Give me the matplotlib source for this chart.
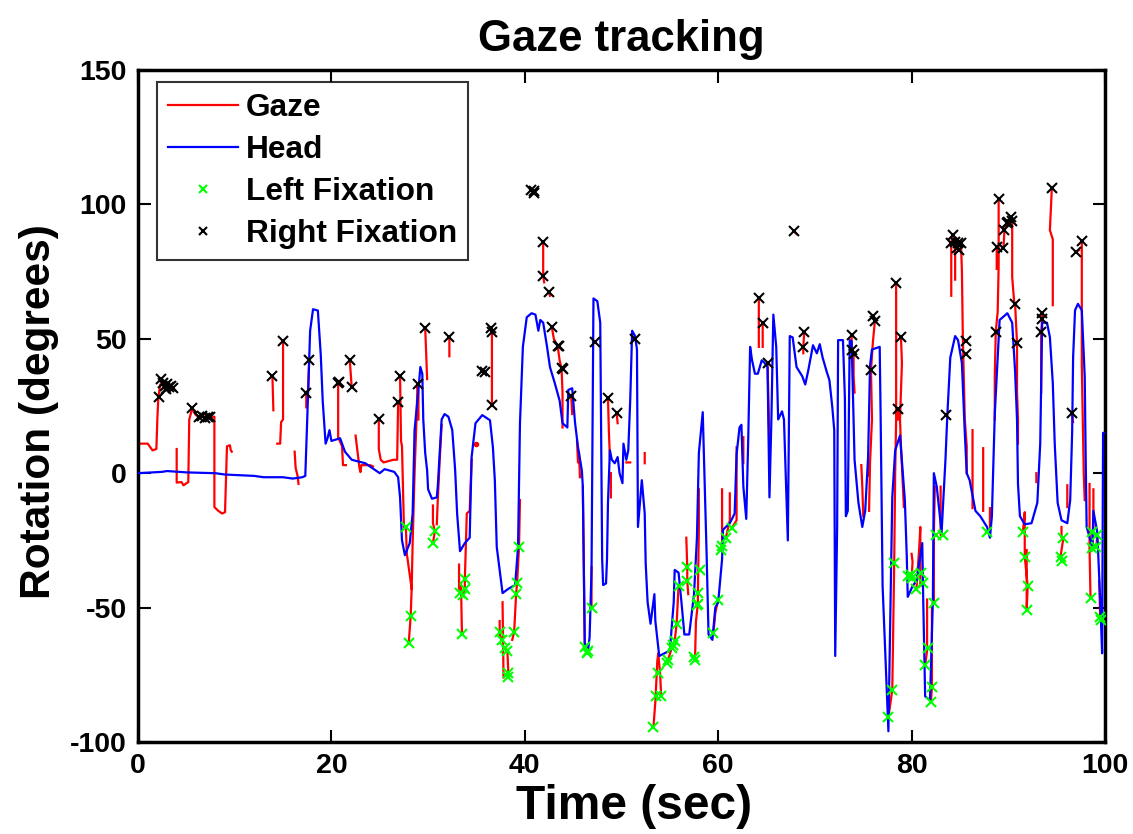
import numpy as np
import matplotlib
matplotlib.use("Agg")
import matplotlib.pyplot as plt

nan = np.nan

# ---------------- data ----------------
head_t = [0, 2.5, 3.0, 5, 8, 9, 12, 13, 15, 16, 17, 17.3, 17.5, 17.8, 18.1, 18.6, 18.9, 19.1, 19.4, 19.6,
          19.8, 20.0, 20.9, 21.4, 22.1, 23.5, 25, 25.5, 26.5, 26.9, 27.1, 27.3, 27.6, 28.1, 28.4, 28.6,
          29.0, 29.2, 29.4, 29.5, 29.7, 29.9, 30.0, 30.4, 30.9, 31.0, 31.2, 31.4, 31.7, 32.1, 32.5, 32.8,
          33.0, 33.3, 33.8, 34.3, 34.5, 34.9, 35.6, 36.4, 36.7, 36.9, 37.1, 37.4, 37.7, 38.3, 39.0, 39.3,
          39.5, 39.8, 40.2, 40.7, 41.1, 41.4, 41.6, 41.9, 42.3, 42.6, 43.1, 43.6, 43.9, 44.4, 44.5, 44.9,
          45.2, 45.5, 45.9, 46.0, 46.2, 46.5, 46.7, 46.9, 47.1, 47.5, 47.8, 48.0, 48.1, 48.4, 48.5, 48.6,
          48.8, 49.0, 49.3, 49.6, 49.8, 50.1, 50.2, 50.5, 50.7, 50.9, 51.1, 51.4, 51.6, 51.7, 52.1, 52.4,
          52.5, 52.7, 53.0, 53.4, 53.5, 53.9, 55.0, 55.4, 55.5, 55.9, 56.2, 56.5, 57.0, 57.5, 57.8, 58.0,
          58.4, 58.8, 59.0, 59.4, 59.7, 60.0, 60.4, 60.5, 61.2, 61.7, 61.9, 62.2, 62.4, 62.6, 62.9, 63.1,
          63.3, 63.5, 63.8, 64.1, 64.5, 64.8, 65.1, 65.2, 65.3, 65.5, 65.7, 66.0, 66.2, 66.6, 66.8, 67.2,
          67.4, 67.7, 68.1, 68.7, 69.0, 69.3, 69.8, 70.2, 70.5, 70.8, 71.2, 71.5, 71.8, 72.0, 72.1, 72.3,
          72.4, 72.9, 73.1, 73.2, 73.4, 73.6, 73.8, 74.1, 74.5, 74.9, 75.2, 75.5, 75.7, 75.9, 76.7, 76.8,
          77.0, 77.2, 77.6, 78.0, 78.3, 78.8, 79.3, 79.5, 79.6, 80.1, 80.5, 81.1, 81.2, 81.4, 81.9, 82.2,
          82.3, 82.6, 83.1, 83.5, 83.7, 84.0, 84.5, 84.8, 85.2, 85.5, 85.7, 86.0, 86.6, 87.1, 87.8, 88.1,
          88.3, 88.6, 89.1, 89.9, 90.4, 90.7, 90.9, 91.0, 91.2, 91.7, 92.4, 93.0, 93.3, 93.5, 94.0, 94.3,
          94.6, 94.8, 95.1, 95.5, 96.1, 96.4, 96.6, 96.7, 96.9, 97.2, 97.6, 97.9, 98.0, 98.1, 98.7, 98.8,
          99.2, 99.5, 99.7, 99.8, 100]
head_deg = [0.0, 0.5, 0.8, 0.3, 0, -0.5, -1, -1.5, -1.5, -2, -1.5, -1, 20, 53, 61, 60.5, 44, 27, 11, 13,
            16, 12, 13, 8, 5, 3.7, 0, 1.5, 0.5, -1.5, -9, -25, -30.5, -26, -15, 16,
            31, 39.5, 37, 20, 7.5, 1, -6, -9.5, -9, -5, 7.5, 20, 22, 21, 16, 1,
            -15, -29, -26, -24, 6, 18.6, 21.6, 19.7, 9.7, -2.6, -27.5, -36, -44.6, -43, -41.6, -27.5,
            18.6, 47, 58, 59.5, 59, 53, 57, 56, 47, 39.5, 33.5, 27, 18.6, 17, 31, 31.6,
            18.6, 9.7, 1, -5, -63, -67, -61, -36, 65, 64, 56, -32, -41.6, -41, -32, -11,
            8.5, 5, 3.7, 6, 0, -3.7, 11, 5, 8.5, 27, 53, 51, 46, -20, -2.6, -15,
            -33.5, -48, -56, -45, -55, -68, -66, -48, -36, -37, -48, -60, -60, -45, -24, 7.5,
            22.7, -30, -60, -62, -50, -48, -32, -21, -18.6, -15, 7, 17, 18, -5, -17, 12,
            47, 42, 37, 37, 42, 41, 39.5, 15, -9, 20, 59, 47, 20, 23, 20, -25,
            51, 50.5, 39.5, 36, 33, 38, 47.6, 44.6, 48, 43, 38, 34.6, 24.5, 16, -68, -20,
            49.5, 49.5, 28, -16, -14, 49.5, 49, 5, -11, -20, -14, 6, 40, 46, 47, 20,
            -42, -60, -96, -9, 8.5, 14, -10, -31, -46, -42, -40, -26, -47, -83, -84.5, -47,
            0, -5, -22, 5, 22, 43, 51, 49.5, 41, 15, 0, -2.6, -14, -16, -20, -24,
            -16, 22, 57, 59.5, 56, 38, 20, -4, -16, -19, -18.6, -11, 11, 56, 56, 50.6,
            33.5, 11, -11, -17.5, -18.6, -10, 15, 43, 60.6, 63, 60.6, 36, 6, -20, -27.5, -14,
            -22, -47, -67, 15, 15]

gaze_t = [0, 1.0, 1.2, 1.5, 1.9, 2.0, 2.1, 2.3, 2.6, 3.0, 3.4, 3.6, nan,
          4.0, 4.0, 4.5, 4.7, 4.9, 5.2, 5.3, 5.6, 5.9, 6.2, 7.4, 7.9, 7.9, 8.3, 8.7, 9.0, 9.2, 9.5, 9.6, 9.7, nan,
          13.9, 14.0, nan, 14.4, 14.7, 14.8, 15.0, 15.0, nan, 16.2, 16.3, 16.5, 16.6, nan,
          17.7, 17.6, 17.4, 17.4, nan, 20.7, 20.7, 21.1, 21.2, 21.5, nan, 21.9, 22.1, nan,
          22.5, 22.9, 23.0, 23.1, 24.0, 24.3, nan,
          24.9, 24.9, 25.1, 25.4, 26.4, 26.8, 26.9, nan,
          27.1, 27.2, 27.3, 27.5, 27.7, 27.8, 28.3, 28.2, 28.0, nan,
          28.3, 28.4, 28.6, 28.8, 28.9, 29.0, 29.0, nan, 29.7, 29.9, nan,
          30.5, 30.5, 30.7, 30.5, nan, 30.9, 31.0, 31.2, 31.4, nan, 32.2, 32.2, nan,
          33.2, 33.2, nan, 33.4, 33.5, nan, 33.3, 33.6, 33.8, 33.8, 34.0, 34.3, 34.5, nan,
          35.6, 35.9, nan, 36.5, 36.6, 36.6, nan, 37.4, 37.4, 37.6, nan, 37.7, 37.8, nan,
          38.0, 38.2, 38.3, 38.3, nan, 38.7, 38.9, 39.1, 39.2, 39.4, 39.5, nan,
          40.6, 41.0, nan, 41.9, 41.9, 42.0, nan, 42.5, 42.6, nan,
          42.8, 43.0, 43.4, 43.6, 43.8, 43.9, 43.9, nan, 44.8, 44.9, nan,
          45.4, 45.5, 45.6, 45.7, nan, 46.0, 46.2, 46.4, 46.5, nan, 46.9, 46.9, nan,
          48.6, 48.7, 48.8, nan, 48.9, 48.9, nan, 49.5, 49.6, nan, 50.5, 50.9, nan, 52.4, 52.4, nan,
          53.3, 53.5, 53.7, 53.8, 54.0, 54.1, nan, 54.7, 55.2, 55.5, 55.7, 55.9, nan,
          56.7, 56.8, 56.8, 56.9, nan, 57.6, 57.7, 57.9, 57.9, 58.0, 58.0, nan,
          59.5, 59.7, 60.0, nan, 60.4, 60.4, 60.3, nan, 60.8, 61.2, 61.2, nan,
          61.4, 61.9, 61.9, nan, 62.6, 62.6, nan, 64.2, 64.2, nan, 64.6, 64.6, nan, 65.1, 65.3, nan,
          67.8, 68.1, nan, 68.9, 68.8, 68.8, nan, 73.8, 73.8, 74.0, 74.0, 74.1, nan,
          74.8, 74.9, 75.0, nan, 75.5, 75.5, nan,
          76.0, 76.2, 76.0, 75.8, 75.9, 75.7, 75.6, nan,
          78.4, 78.4, 78.3, 78.2, 78.0, 77.6, nan, 78.6, 78.6, nan,
          78.9, 79.0, 78.8, 78.9, 79.2, nan, 79.6, 79.9, 80.0, 80.1, 80.0, nan,
          80.5, 80.8, 80.9, 80.9, 81.2, nan, 81.6, 81.6, 81.4, nan, 82.1, 82.1, 82.0, nan,
          82.3, 82.3, 82.4, nan, 83.0, 83.0, 83.2, nan,
          84.1, 84.1, 84.3, 84.5, 84.8, 85.1, 85.2, 85.3, 85.5, 85.7, 85.7, nan, 84.5, 84.5, nan,
          86.3, 86.3, nan, 87.4, 87.4, nan, 88.1, 88.1, nan,
          89.0, 89.0, 88.9, 88.7, 88.6, 88.6, nan, 88.8, 88.8, nan,
          89.5, 89.6, 89.9, 90.0, 90.3, 90.4, 90.4, 90.6, 90.7, 90.9, 90.9, 91.0, 91.0, nan,
          91.5, 91.7, 91.7, 92.0, 91.9, 91.9, nan, 92.9, 92.9, nan,
          93.5, 93.5, 93.4, 93.4, nan, 94.5, 94.3, 94.6, 94.6, nan,
          95.5, 95.5, 95.7, 95.4, 95.6, nan, 96.1, 96.1, nan, 96.6, 96.7, nan,
          97.0, 97.3, nan, 97.6, 97.6, 97.7, 97.8, 97.9, nan,
          98.4, 98.4, 98.5, nan, 98.8, 98.8, 98.7, 98.7, 99.1, 99.2, nan, 99.4, 99.5, 99.6]
gaze_deg = [11, 11, 10, 8.5, 9, 20, 28, 33, 33.5, 33, 32.5, 32, nan,
            9, -3.5, -3.3, -4.5, -4, -3.3, 20, 24, 22, 21, 21, 21, -12.6, -14, -15, -14.5, 10, 10.4, 8.5, 8, nan,
            36, 23.4, nan, 11, 11, 19, 20, 49, nan, 8, 2, -1, -4, nan,
            42, 31, 30, 24.5, nan, 33.5, 13.4, 10, 3, 3, nan, 42, 32, nan,
            14, 2, 0.4, 3, 3, 2.5, nan,
            20, 9, 5, 4, 5, 5, 26.4, nan,
            36, 12, 10, -20, -20, -30, -43, -53, -63, nan,
            -43, -26, 0, 20, 33, 30, 20, nan, 54, 35, nan,
            -12, -18.6, -21.6, -26, nan, -19, -10, 5, 18, nan, 50.6, 43.5, nan,
            -34, -43, nan, -41, -60, nan, -44.6, -45.4, -43, -39.5, -15, -14, 5, nan,
            38, 37.6, nan, 54, 52.5, 25, nan, -55, -60, -62, nan, -48, -76, nan,
            -65, -66, -74.5, -76, nan, -62, -59, -45, -41, -27.5, -10, nan,
            105.2, 104.5, nan, 86, 73.3, 71, nan, 67.3, 66, nan,
            54.3, 50, 47.2, 42, 39, 30, 17, nan, 28.6, 22, nan,
            12, 4, 8, -1.5, nan, -5, -64.5, -67, -65, nan, -35, -50, nan,
            28, 15, 6, nan, 0, -9, nan, 22.3, 18.6, nan, 4, 4, nan, 7.5, 3.7, nan,
            -94.5, -85, -70, -67, -75, -83, nan, -70.7, -65, -62.5, -56, -42, nan,
            -24, -35, -40, -45, nan, -69.4, -55, -48.5, -44.6, -20, -6, nan,
            -59.5, -52, -47, nan, -6, -27, -28.6, nan, -24, -17.5, -7.5, nan,
            -20.5, -17.5, 9.7, nan, 13.4, 3.7, nan, 65, 47, nan, 56, 47, nan, 41, 11, nan,
            90, 89, nan, 52.5, 47, 44.6, nan, 51.3, 45.7, 44.3, 36, 30, nan,
            3, -5, -16, nan, 4, -1, nan,
            58.4, 56.5, 49, 38.3, 20, 4, -14, nan,
            70.7, 20, 0, -33.5, -80.7, -90.8, nan, 24, 20, nan,
            50.6, 41, 20, 10, -12.6, nan, -38.4, -38, -39, -33, -30, nan,
            -43, -27, -20, -42, -41, nan, -47, -66, -71.5, nan, -50, -79.6, -85, nan,
            -48.4, -23, -5, nan, -5, -23, -23, nan,
            66, 85.6, 88.5, 86, 85.6, 85.6, 75.5, 50, 20, 10, 0, nan, 84, 72, nan,
            16, -13, nan, 9.3, -14, nan, -13, -20.5, nan,
            102, 77, 60, 52.5, 36, 20, nan, 84, 76, nan,
            83.7, 90.4, 93, 93.4, 95.2, 94, 73, 64, 63, 48.4, 30, 20, 11, nan,
            -22, -14.5, -31, -42, -51, -28.6, nan, 0, -3.3, nan,
            59.5, 57.3, 52.5, 30, nan, 106, 90.4, 87, 62.5, nan,
            -20, -24, -24, -31, -32.6, nan, -4.5, -12.6, nan, 22.3, 19, nan,
            82.2, 83, nan, 86.3, 40, 20, 0, -10, nan,
            -4, -28, -46.5, nan, -6, -20, -22, -28, -27.5, -23, nan, -40, -53.6, -54.7]

gaze_dot_t = [35.0]
gaze_dot_deg = [10.8]

left_fix_t = [27.7, 28.2, 28.0, 30.7, 30.5, 33.5, 33.3, 33.6, 33.8, 33.8,
              37.4, 37.6, 38.0, 38.2, 38.3, 38.3, 38.9, 39.1, 39.2, 39.4,
              46.2, 46.4, 46.5, 46.9,
              53.3, 53.6, 54.1, 53.8, 54.7, 54.8, 55.2, 55.3, 55.5, 55.7, 55.9, 56.8, 56.8,
              57.6, 57.5, 57.9, 57.9, 57.8, 58.1, 59.5, 60.0, 60.3, 60.4, 60.8, 61.4,
              78.2, 78.0, 77.6, 79.6, 79.9, 80.0, 80.5, 81.2, 81.0, 81.7, 81.4, 82.1, 82.0,
              82.3, 82.5, 83.2, 87.8, 91.5, 91.7, 92.0, 91.9, 95.7, 95.4, 95.6,
              98.5, 98.7, 99.2, 98.7, 99.1, 99.5, 99.6]
left_fix_deg = [-20, -53, -63, -21.6, -26, -60, -44.6, -45.4, -43, -39.5,
                -59, -62, -65, -66, -74.5, -76, -59, -45, -41, -27.5,
                -64.5, -67, -66, -50,
                -94.5, -83, -83, -74.5, -70.7, -69.6, -65, -64, -62.5, -56, -42, -35, -40,
                -69.4, -68.5, -44.6, -48.5, -49, -36, -59.5, -47, -28.6, -27, -24, -20.5,
                -33.5, -80.7, -90.8, -38.4, -38, -39, -43, -41, -37, -65, -71.5, -79.6, -85,
                -48.4, -23, -23, -22, -22, -31, -42, -51, -24, -31, -32.6,
                -46.5, -22, -23, -28, -27.5, -53.6, -54.7]

right_fix_t = [2.2, 2.4, 2.6, 2.8, 3.0, 3.2, 3.4, 3.6, 2.9, 5.6, 6.3, 6.6, 6.9, 7.2, 7.4,
               13.9, 15.0, 17.4, 17.7, 20.7, 20.8, 21.9, 22.1, 24.9, 26.9, 27.1, 29.0, 29.7,
               32.2, 35.6, 35.9, 36.5, 36.6, 36.6, 40.6, 40.9, 41.0, 41.9, 41.9, 42.5,
               42.8, 43.4, 43.5, 43.8, 43.9, 44.8, 47.3, 48.6, 49.5, 51.4,
               64.2, 64.6, 65.1, 67.8, 68.9, 68.8, 73.8, 73.8, 74.0, 76.0, 76.2, 75.8,
               78.4, 78.6, 78.9, 83.6, 84.3, 84.1, 84.5, 84.8, 85.1, 84.7, 84.9, 85.6, 85.6,
               88.8, 89.0, 88.7, 89.5, 89.6, 90.0, 90.3, 90.4, 89.9, 90.7, 90.9,
               93.5, 93.5, 93.4, 94.5, 96.6, 97.0, 97.6]
right_fix_deg = [28.3, 35, 33.5, 32.5, 33, 32, 32.5, 31.8, 31.5, 24.2, 20.8, 21.2, 20.5, 21, 20.8,
                 36, 49, 29.8, 42, 33.5, 33.8, 42, 32, 20, 26.4, 36, 33, 54,
                 50.6, 38, 37.6, 54, 52.5, 25.3, 105.2, 104.3, 104.8, 86, 73.3, 67.3,
                 54.3, 47.2, 47.5, 39, 38.6, 28.6, 48.7, 28, 22.3, 50,
                 65, 56, 41, 90, 52.5, 47, 51.3, 45.7, 44.3, 58.4, 56.5, 38.3,
                 70.7, 24, 50.6, 21.6, 88.5, 85.6, 86, 85.6, 85.6, 83.7, 83, 49, 44.3,
                 84, 102, 52.5, 83.7, 90.4, 93.4, 95.2, 94, 93, 63, 48.4,
                 59.5, 57.3, 52.5, 106, 22.3, 82.2, 86.3]

x_ticks = [0, 20, 40, 60, 80, 100]
y_ticks = [-100, -50, 0, 50, 100, 150]

# ---------------- plot ----------------
plt.rcParams['font.family'] = ['Liberation Sans', 'DejaVu Sans']
plt.rcParams['font.weight'] = 'bold'
plt.rcParams['axes.unicode_minus'] = False

fig = plt.figure(figsize=(11.33, 8.34), dpi=100)
ax = fig.add_axes([0.1218, 0.1103, 0.8535, 0.8058])

ax.plot(gaze_t, gaze_deg, color='#ff0000', lw=1.6, label='Gaze', zorder=2)
ax.plot(gaze_dot_t, gaze_dot_deg, 'o', color='#ff0000', ms=3, zorder=2)
ax.plot(head_t, head_deg, color='#0000ff', lw=1.6, label='Head', zorder=3)
ax.plot(left_fix_t, left_fix_deg, 'x', color='#00ff00', ms=7, mew=1.5, label='Left Fixation', zorder=4)
ax.plot(right_fix_t, right_fix_deg, 'x', color='black', ms=7, mew=1.5, label='Right Fixation', zorder=4)

ax.set_xlim(0, 100)
ax.set_ylim(-100, 150)
ax.set_xticks(x_ticks)
ax.set_yticks(y_ticks)
ax.tick_params(direction='in', length=9, width=1.5, top=True, right=True,
               labelsize=20.5, pad=8)
for lab in ax.get_xticklabels() + ax.get_yticklabels():
    lab.set_fontweight('bold')
for s in ax.spines.values():
    s.set_linewidth(2.5)

ax.set_title('Gaze tracking', fontsize=31.5, fontweight='bold', pad=14)
ax.set_xlabel('Time (sec)', fontsize=34.5, fontweight='bold')
ax.xaxis.set_label_coords(0.5125, -0.063)
ax.set_ylabel('Rotation (degrees)', fontsize=30.5, fontweight='bold')
ax.yaxis.set_label_coords(-0.082, 0.491)

leg = ax.legend(loc='upper left', fontsize=22.8, frameon=True, fancybox=False,
                edgecolor='black', handlelength=2.2, handletextpad=0.25,
                borderpad=0.35, labelspacing=0.38, markerscale=0.8,
                bbox_to_anchor=(0.0196, 0.982), borderaxespad=0.0)
leg.get_frame().set_linewidth(1.5)
for t in leg.get_texts():
    t.set_fontweight('bold')

fig.savefig('out.png', dpi=100)
